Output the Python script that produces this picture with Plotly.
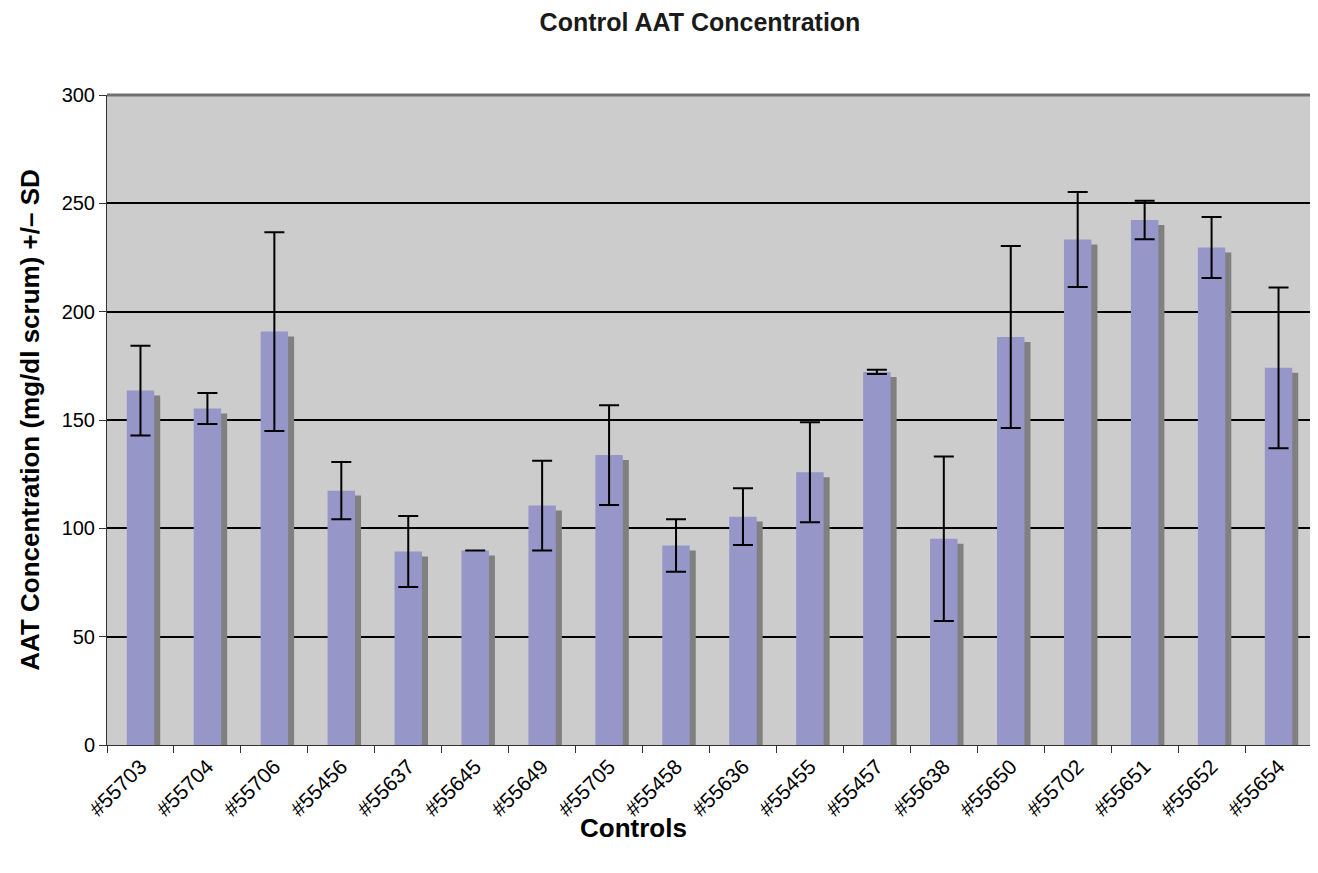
import plotly.graph_objects as go

categories = ["#55703", "#55704", "#55706", "#55456", "#55637", "#55645", "#55649", "#55705", "#55458",
              "#55636", "#55455", "#55457", "#55638", "#55650", "#55702", "#55651", "#55652", "#55654"]
means = [163.6, 155.3, 190.8, 117.4, 89.3, 89.8, 110.5, 133.8, 92.1,
         105.4, 125.9, 172.2, 95.2, 188.3, 233.3, 242.3, 229.6, 174.1]
sds = [20.7, 7.2, 45.9, 13.2, 16.4, 0.0, 20.7, 23.0, 12.1,
       13.1, 23.1, 1.0, 38.0, 42.0, 21.9, 8.9, 14.1, 37.1]

BAR_W = 0.41
SHADOW_DX = 0.09   # category units
SHADOW_DY = 2.3    # value units (~5px)

shadow_vals = [max(m - SHADOW_DY, 0) for m in means]

W, H = 1310, 865  # page body adds an 8px margin

fig = go.Figure()
fig.add_trace(go.Bar(
    x=categories, y=shadow_vals, width=BAR_W, offset=-BAR_W / 2 + SHADOW_DX,
    marker=dict(color="#808080", line=dict(width=0)), hoverinfo="skip", showlegend=False,
))
fig.add_trace(go.Bar(
    x=categories, y=means, width=BAR_W,
    marker=dict(color="#9696C8", line=dict(width=0)), showlegend=False,
    error_y=dict(type="data", array=sds, visible=True, color="black", thickness=2, width=10),
))

fig.update_layout(
    width=W, height=H,
    barmode="overlay",
    paper_bgcolor="white",
    plot_bgcolor="#CCCCCC",
    margin=dict(l=99, r=6, t=87, b=128, autoexpand=False),
    font=dict(family="Arial, Liberation Sans, sans-serif", color="black"),
    title=dict(text="<b>Control AAT Concentration</b>", x=692 / W, xanchor="center",
               y=1 - 14 / H, yanchor="middle", font=dict(size=25, color="#1a1a1a")),
    xaxis=dict(
        tickangle=-45, tickfont=dict(size=21),
        ticks="outside", ticklen=7, tickcolor="#333", tickson="boundaries",
        showline=True, linecolor="#333", linewidth=1,
        showgrid=False, range=[-0.5, 17.5],
    ),
    yaxis=dict(
        title=dict(text="<b>AAT Concentration (mg/dl scrum) +/– SD</b>", font=dict(size=26), standoff=14),
        range=[0, 300], dtick=50, tickfont=dict(size=20),
        ticks="outside", ticklen=7, tickcolor="#333",
        showline=True, linecolor="#333", linewidth=1,
        showgrid=True, gridcolor="black", gridwidth=2, zeroline=False,
    ),
    annotations=[
        dict(text="<b>Controls</b>", xref="paper", yref="paper", x=0.437, y=-0.128,
             xanchor="center", yanchor="middle", showarrow=False, font=dict(size=26)),
    ],
    shapes=[
        dict(type="line", xref="paper", yref="paper", x0=0, x1=1, y0=1, y1=1,
             line=dict(color="#707070", width=3)),
        dict(type="line", xref="paper", yref="paper", x0=1, x1=1, y0=0, y1=1,
             line=dict(color="#909090", width=2)),
    ],
)

fig.write_html("out.html")
